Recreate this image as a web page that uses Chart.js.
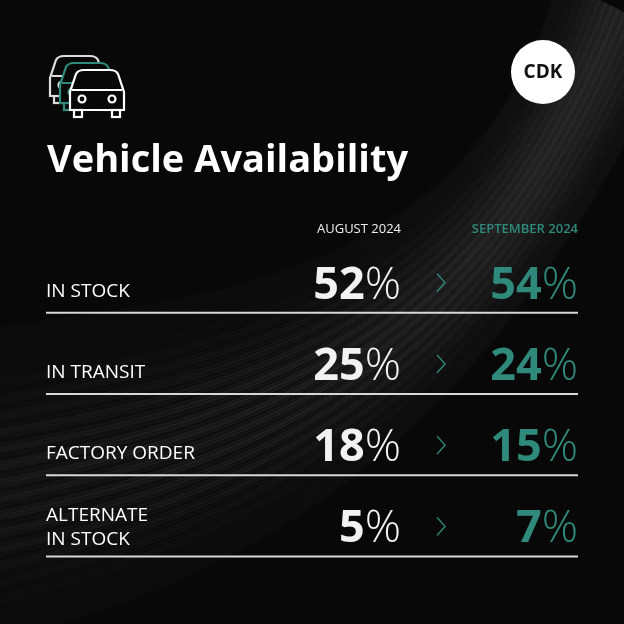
<!DOCTYPE html>
<html><head><meta charset="utf-8">
<script src="https://cdn.jsdelivr.net/npm/chart.js@4"></script>
<style>html,body{margin:0;padding:0;background:#0b0b0b}#w{width:624px;height:624px}</style>
</head><body><div id="w"><canvas id="c" width="624" height="624"></canvas></div>
<script>
const categories = ["IN STOCK", "IN TRANSIT", "FACTORY ORDER", "ALTERNATE\nIN STOCK"];
const august = [52, 25, 18, 5];
const september = [54, 24, 15, 7];
const headers = ["AUGUST 2024", "SEPTEMBER 2024"];
const title = "Vehicle Availability";
const TEAL = "#2f8a7b";

const bg = {
  id: "bg",
  beforeDraw(ch) {
    const c = ch.ctx; c.save();
    c.fillStyle = "#080808"; c.fillRect(0, 0, 624, 624);
    for (let k = 0; k < 70; k++) {
      const t = k / 70;
      const a = 0.02 + 0.07 * Math.pow(Math.sin(t * Math.PI), 2) * (0.6 + 0.4 * Math.sin(k * 1.7));
      c.strokeStyle = `rgba(190,190,190,${a})`;
      c.lineWidth = 5;
      c.beginPath();
      c.moveTo(-20, 330 + t * 320);
      c.bezierCurveTo(250, 300 + t * 280, 480, 260 + t * 200, 560 + t * 120, -20 + t * 60);
      c.stroke();
    }
    // CDK logo
    c.fillStyle = "#fff"; c.beginPath(); c.arc(543, 72, 32, 0, 2 * Math.PI); c.fill();
    c.fillStyle = "#111"; c.font = "bold 19px 'Open Sans'"; c.textAlign = "center"; c.textBaseline = "middle";
    c.fillText("CDK", 543, 73);
    const car = (x, y, col) => {
      c.strokeStyle = col; c.lineWidth = 2.2; c.fillStyle = "#080808";
      c.beginPath();
      c.moveTo(x, y + 40); c.lineTo(x, y + 22); c.lineTo(x + 6, y + 4);
      c.quadraticCurveTo(x + 8, y, x + 14, y); c.lineTo(x + 40, y);
      c.quadraticCurveTo(x + 46, y, x + 48, y + 4); c.lineTo(x + 54, y + 22);
      c.lineTo(x + 54, y + 40); c.closePath(); c.fill(); c.stroke();
      c.beginPath(); c.moveTo(x + 2, y + 20); c.lineTo(x + 52, y + 20); c.stroke();
      c.beginPath(); c.arc(x + 12, y + 29, 3.5, 0, 7); c.stroke();
      c.beginPath(); c.arc(x + 42, y + 29, 3.5, 0, 7); c.stroke();
      c.strokeRect(x + 4, y + 40, 8, 7); c.strokeRect(x + 42, y + 40, 8, 7);
    };
    car(50, 56, "#ddd"); car(60, 63, TEAL); car(70, 70, "#fff");
    c.fillStyle = "#fff"; c.textAlign = "left"; c.textBaseline = "alphabetic";
    c.font = "bold 38px 'Open Sans'"; c.fillText(title, 47, 172);
    c.restore();
  }
};

const rows = {
  id: "rows",
  afterDatasetsDraw(ch) {
    const c = ch.ctx, y = ch.scales.y; c.save();
    c.font = "13px 'Open Sans'"; c.textAlign = "right";
    c.fillStyle = "#eee"; c.fillText(headers[0], 401, 233);
    c.font = "600 13px 'Open Sans'";
    c.fillStyle = TEAL; c.fillText(headers[1], 578, 233);
    categories.forEach((lab, i) => {
      const yc = y.getPixelForValue(i);
      c.strokeStyle = "#d8d8d8"; c.lineWidth = 2;
      c.beginPath(); c.moveTo(46, yc + 31); c.lineTo(578, yc + 31); c.stroke();
      c.textAlign = "left"; c.fillStyle = "#fff"; c.font = "500 19px 'Open Sans'";
      const parts = lab.split("\n");
      if (parts.length === 1) c.fillText(parts[0], 46, yc + 15);
      else { c.fillText(parts[0], 46, yc - 4); c.fillText(parts[1], 46, yc + 20); }
      const pct = (v, x, col) => {
        c.font = "300 45px 'Open Sans'"; const pw = c.measureText("%").width;
        c.fillStyle = col; c.textAlign = "right"; c.fillText("%", x, yc + 17);
        c.font = "bold 45px 'Open Sans'"; c.fillText(String(v), x - pw, yc + 17);
      };
      pct(august[i], 401, "#f2f2f2");
      pct(september[i], 578, TEAL);
      c.strokeStyle = TEAL; c.lineWidth = 1.5;
      c.beginPath(); c.moveTo(437, yc - 8); c.lineTo(445, yc + 1); c.lineTo(437, yc + 10); c.stroke();
    });
    c.restore();
  }
};

new Chart(document.getElementById("c"), {
  type: "bar",
  data: { labels: categories, datasets: [
    { data: august, backgroundColor: "transparent" },
    { data: september, backgroundColor: "transparent" } ] },
  options: {
    indexAxis: "y", responsive: false, animation: false, events: [],
    layout: { padding: { top: 241, bottom: 58, left: 46, right: 46 } },
    plugins: { legend: { display: false }, tooltip: { enabled: false } },
    scales: { x: { display: false, min: 0, max: 100 }, y: { display: false } }
  },
  plugins: [bg, rows]
});
</script></body></html>
